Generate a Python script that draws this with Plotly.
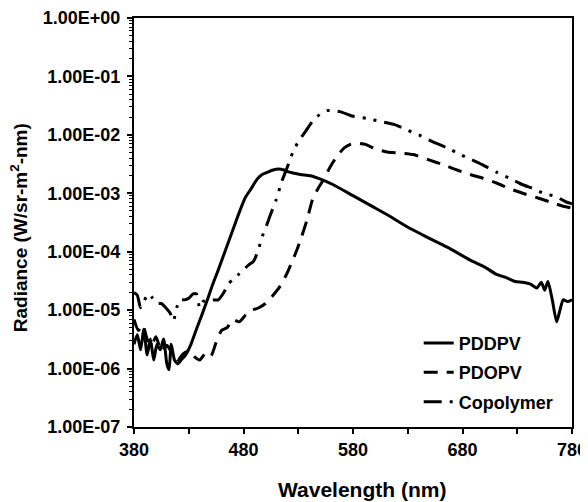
import plotly.graph_objects as go

# ---- data ----
pddpv_wl = [380, 383, 386, 389, 392, 395, 398, 401, 404, 407, 410, 412, 414, 417, 420, 423, 427, 432,
            437, 442, 447, 452, 457, 462, 467, 472, 477, 482, 487, 492, 497, 502, 507, 512, 517, 522,
            532, 541, 552, 562, 580, 598, 614, 629, 647, 666, 687, 700, 711, 720, 728, 735, 742, 748,
            752, 755, 758, 762, 766, 769, 772, 776, 780]
pddpv_rad = [2.6e-6, 3.8e-6, 2.1e-6, 4.7e-6, 1.7e-6, 3.2e-6, 1.4e-6, 2.6e-6, 2.1e-6, 3.2e-6, 1.2e-6,
             9.5e-7, 2.6e-6, 1.4e-6, 1.2e-6, 1.4e-6, 1.7e-6, 2.6e-6, 4.7e-6, 8.3e-6, 1.5e-5, 2.8e-5,
             4.9e-5, 8.9e-5, 1.6e-4, 2.9e-4, 5.2e-4, 8.7e-4, 1.2e-3, 1.7e-3, 2.1e-3, 2.3e-3, 2.5e-3,
             2.6e-3, 2.5e-3, 2.3e-3, 2.1e-3, 2.0e-3, 1.7e-3, 1.4e-3, 9.1e-4, 5.9e-4, 4.0e-4, 2.7e-4,
             1.8e-4, 1.2e-4, 7.2e-5, 5.5e-5, 4.1e-5, 3.6e-5, 3.1e-5, 3.0e-5, 2.8e-5, 2.4e-5, 3.0e-5,
             2.2e-5, 3.1e-5, 1.5e-5, 6.3e-6, 1.0e-5, 1.5e-5, 1.4e-5, 1.5e-5]

pdopv_wl = [380, 384, 388, 392, 396, 400, 405, 410, 415, 420, 425, 430, 435, 440, 445, 450, 455, 460,
            465, 470, 476, 482, 488, 494, 500, 507, 513, 519, 525, 529, 533, 538, 543, 548, 553, 559,
            565, 572, 578, 584, 592, 600, 611, 623, 635, 648, 662, 675, 687, 699, 711, 723, 735, 749,
            763, 772, 780]
pdopv_rad = [6.9e-6, 4.5e-6, 5.6e-6, 3.2e-6, 2.5e-6, 3.5e-6, 2.0e-6, 2.5e-6, 1.8e-6, 1.4e-6, 1.8e-6,
             2.0e-6, 1.6e-6, 1.4e-6, 1.8e-6, 1.6e-6, 2.8e-6, 4.5e-6, 5.0e-6, 6.9e-6, 6.3e-6, 8.3e-6,
             1.0e-5, 1.1e-5, 1.3e-5, 1.8e-5, 2.5e-5, 4.0e-5, 7.2e-5, 1.1e-4, 1.8e-4, 3.5e-4, 7.8e-4,
             1.2e-3, 1.7e-3, 2.8e-3, 4.2e-3, 6.0e-3, 6.9e-3, 7.2e-3, 6.8e-3, 5.8e-3, 5.1e-3, 4.9e-3,
             4.6e-3, 3.8e-3, 3.1e-3, 2.5e-3, 2.1e-3, 1.8e-3, 1.5e-3, 1.2e-3, 1.0e-3, 8.3e-4, 6.8e-4,
             6.0e-4, 5.6e-4]

copoly_wl = [380, 383, 386, 389, 393, 397, 401, 405, 409, 413, 416, 419, 422, 426, 430, 434, 437, 440,
             443, 447, 452, 457, 462, 466, 470, 475, 480, 485, 489, 493, 497, 501, 504, 510, 515, 520,
             525, 530, 536, 545, 556, 568, 579, 593, 605, 618, 630, 640, 653, 666, 678, 688, 698, 711,
             723, 735, 745, 754, 766, 774, 780]
copoly_rad = [2.0e-5, 1.8e-5, 1.1e-5, 1.4e-5, 1.9e-5, 1.6e-5, 1.3e-5, 1.3e-5, 1.1e-5, 8.9e-6, 6.6e-6,
              1.1e-5, 1.5e-5, 1.5e-5, 1.6e-5, 1.9e-5, 1.9e-5, 1.1e-5, 1.4e-5, 1.5e-5, 1.5e-5, 1.5e-5,
              2.0e-5, 2.8e-5, 3.3e-5, 4.0e-5, 4.9e-5, 6.0e-5, 6.8e-5, 1.0e-4, 1.8e-4, 2.8e-4, 4.0e-4,
              7.9e-4, 1.6e-3, 2.8e-3, 5.0e-3, 7.6e-3, 1.1e-2, 1.9e-2, 2.6e-2, 2.5e-2, 2.1e-2, 1.9e-2,
              1.7e-2, 1.5e-2, 1.2e-2, 1.0e-2, 7.6e-3, 6.0e-3, 4.6e-3, 3.8e-3, 3.1e-3, 2.3e-3, 1.8e-3,
              1.4e-3, 1.2e-3, 1.0e-3, 8.7e-4, 7.2e-4, 6.6e-4]

series_names = ["PDDPV", "PDOPV", "Copolymer"]
x_title = "Wavelength (nm)"
y_title = "Radiance (W/sr-m<sup>2</sup>-nm)"

x_tickvals = [380, 480, 580, 680, 780]
x_minor_vals = [430, 530, 630, 730]
y_tickvals = [1e-7, 1e-6, 1e-5, 1e-4, 1e-3, 1e-2, 1e-1, 1e0]
y_ticktext = ["1.00E-07", "1.00E-06", "1.00E-05", "1.00E-04", "1.00E-03", "1.00E-02", "1.00E-01", "1.00E+00"]
y_minor_vals = [m * d for d in [1e-7, 1e-6, 1e-5, 1e-4, 1e-3, 1e-2, 1e-1] for m in range(2, 10)]

FONT = "Arial, 'Liberation Sans', sans-serif"

fig = go.Figure()
styles = [
    dict(dash="solid"),
    dict(dash="14px,9px"),
    dict(dash="18px,8px,3px,8px,3px,8px"),
]
for name, xs, ys, st in zip(series_names, [pddpv_wl, pdopv_wl, copoly_wl],
                            [pddpv_rad, pdopv_rad, copoly_rad], styles):
    fig.add_trace(go.Scatter(
        x=xs, y=ys, mode="lines", name=name, legendgroup=name,
        line=dict(color="black", width=3, dash=st["dash"], shape="spline", smoothing=0.6),
    ))

axis_common = dict(
    showline=True, linecolor="black", linewidth=2, mirror=True,
    ticks="outside", ticklen=5, tickwidth=1.5, tickcolor="black",
    showgrid=False, zeroline=False, automargin=False,
    tickfont=dict(family=FONT, size=18, color="black", weight="bold"),
)

# page body adds an 8px margin, so the figure is 580x494 and offset by 8px
fig.update_layout(
    width=580, height=494,
    margin=dict(l=126, r=16, t=10, b=75),
    paper_bgcolor="white", plot_bgcolor="white",
    showlegend=True,
    legend=dict(
        x=0.65, y=0.25, xanchor="left", yanchor="top",
        bgcolor="rgba(0,0,0,0)", traceorder="grouped", tracegroupgap=3,
        font=dict(family=FONT, size=18, color="black", weight="bold"),
    ),
    xaxis=dict(
        **axis_common,
        range=[380, 780], tickmode="array", tickvals=x_tickvals,
        minor=dict(tickmode="array", tickvals=x_minor_vals, ticks="outside", ticklen=5,
                   tickwidth=1.5, tickcolor="black", showgrid=False),
    ),
    yaxis=dict(
        **axis_common,
        type="log", range=[-7, 0], tickmode="array", tickvals=y_tickvals, ticktext=y_ticktext,
        ticklabelstandoff=3,
        minor=dict(tickmode="array", tickvals=y_minor_vals, ticks="outside", ticklen=3,
                   tickwidth=1, tickcolor="black", showgrid=False),
    ),
    annotations=[
        dict(text=x_title, xref="paper", yref="paper", x=0.5205, y=-0.154,
             xanchor="center", yanchor="middle", showarrow=False,
             font=dict(family=FONT, size=21, color="black", weight="bold")),
        dict(text=y_title, xref="paper", yref="paper", x=-0.262, y=0.4866, textangle=-90,
             xanchor="center", yanchor="middle", showarrow=False,
             font=dict(family=FONT, size=19, color="black", weight="bold")),
    ],
)

fig.write_html("out.html")
